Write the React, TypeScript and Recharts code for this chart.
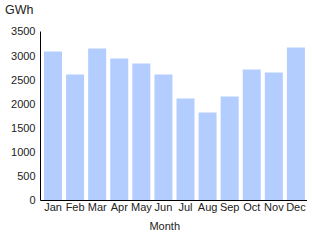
import React from 'react';
import { BarChart, Bar, XAxis, YAxis, Label } from 'recharts';

const months = ['Jan', 'Feb', 'Mar', 'Apr', 'May', 'Jun', 'Jul', 'Aug', 'Sep', 'Oct', 'Nov', 'Dec'];
const gwh = [3085, 2610, 3150, 2940, 2835, 2610, 2110, 1820, 2155, 2715, 2650, 3170];
const yTicks = [0, 500, 1000, 1500, 2000, 2500, 3000, 3500];

const data = months.map((m, i) => ({ month: m, value: gwh[i] }));

const FONT = '"Liberation Sans", Arial, Helvetica, sans-serif';
const tickStyle = { fontSize: 11, fill: '#222', fontFamily: FONT };

export default function App() {
  return (
    <div style={{ position: 'absolute', left: 0, top: 0, width: 312, height: 240, background: '#fff' }}>
      <div style={{ position: 'absolute', left: 5, top: 3, fontSize: 12.5, fontFamily: FONT, color: '#222' }}>GWh</div>
      <BarChart width={312} height={240} data={data} margin={{ top: 31.5, right: 5, bottom: 0, left: 0 }} barCategoryGap={2}>
        <XAxis
          dataKey="month"
          height={39.5}
          tick={tickStyle}
          tickLine={false}
          tickSize={0}
          tickMargin={3}
          interval={0}
          padding={{ left: 1.5, right: 0 }}
          axisLine={{ stroke: '#000' }}
        >
          <Label value="Month" position="insideBottom" offset={10} dx={-9} style={{ fontSize: 11, fill: '#222', fontFamily: FONT }} />
        </XAxis>
        <YAxis
          width={40.5}
          domain={[0, 3500]}
          ticks={yTicks}
          interval={0}
          tick={tickStyle}
          tickLine={false}
          tickSize={0}
          tickMargin={5}
          axisLine={{ stroke: '#000' }}
        />
        <Bar dataKey="value" fill="#b3cdff" isAnimationActive={false} />
      </BarChart>
    </div>
  );
}
